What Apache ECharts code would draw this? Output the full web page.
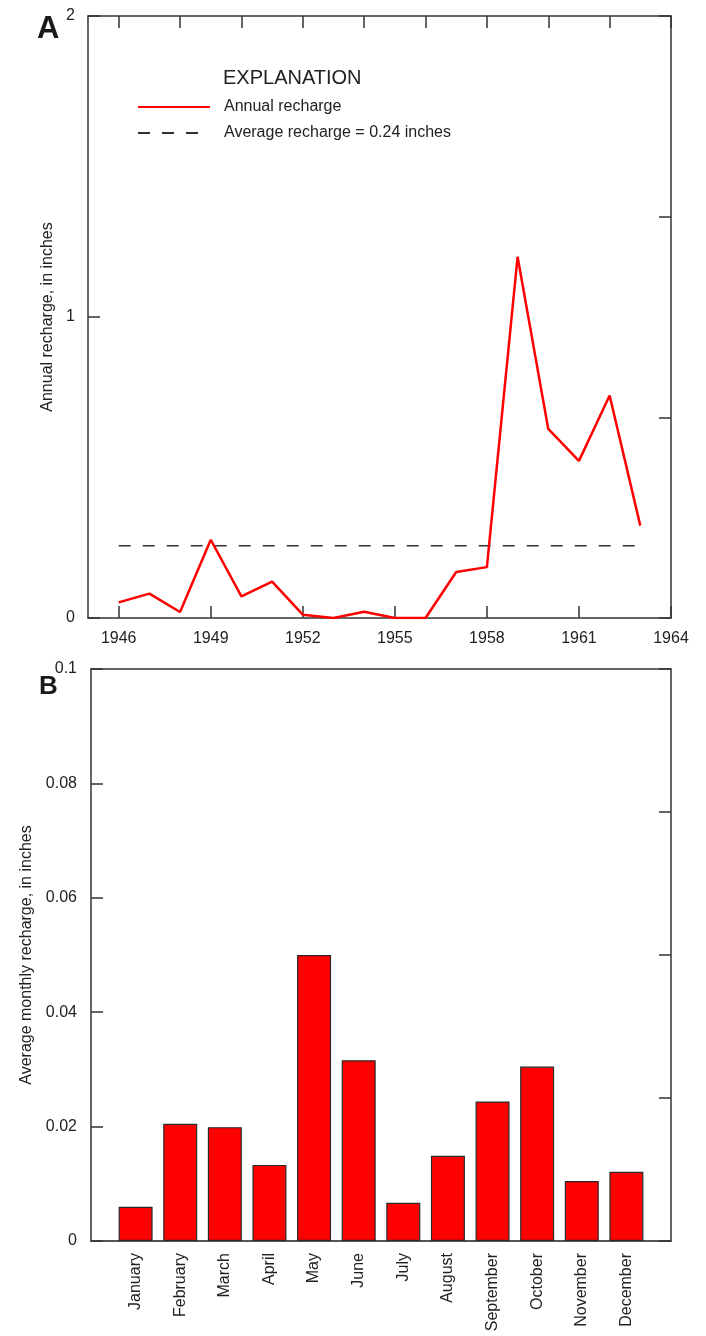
<!DOCTYPE html>
<html>
<head>
<meta charset="utf-8">
<title>Annual and average monthly recharge</title>
<script src="https://cdn.jsdelivr.net/npm/echarts@6/dist/echarts.min.js"></script>
<style>
  html, body { margin: 0; padding: 0; background: #fff; }
  #chart { width: 706px; height: 1336px; }
</style>
</head>
<body>
<div id="chart"></div>
<script>
// Panel A: annual recharge, 1946-1963 (inches)
var years = [1946, 1947, 1948, 1949, 1950, 1951, 1952, 1953, 1954,
             1955, 1956, 1957, 1958, 1959, 1960, 1961, 1962, 1963];
var annualRecharge = [0.052, 0.081, 0.020, 0.260, 0.072, 0.121, 0.011, 0.0, 0.021,
                      0.0, 0.0, 0.153, 0.169, 1.20, 0.628, 0.522, 0.739, 0.307];
var avgRecharge = 0.24;
var yearTicks = [1946, 1949, 1952, 1955, 1958, 1961, 1964];
var yearTicksTop = [1946, 1948, 1950, 1952, 1954, 1956, 1958, 1960, 1962, 1964];

// Panel B: average monthly recharge (inches)
var months = ['January', 'February', 'March', 'April', 'May', 'June', 'July',
              'August', 'September', 'October', 'November', 'December'];
var monthlyRecharge = [0.0060, 0.0205, 0.0199, 0.0133, 0.0500, 0.0316,
                       0.0067, 0.0149, 0.0244, 0.0305, 0.0105, 0.0121];

(function () {
    'use strict';

    var FONT = '"Liberation Sans", Arial, sans-serif';
    var TEXT = '#222';
    var AXIS = '#333';

    // Shared bits for the boxed frame look.
    function frameLine(color, width) {
        return { show: true, onZero: false, lineStyle: { color: color || AXIS, width: width || 1.5 } };
    }
    function tickIn(extra) {
        var t = { show: true, inside: true, length: 12, lineStyle: { color: AXIS, width: 1.5 } };
        for (var k in extra) t[k] = extra[k];
        return t;
    }
    var noLabel = { show: false };

    var lineData = years.map(function (y, i) { return [y, annualRecharge[i]]; });
    var avgData = [[years[0], avgRecharge], [years[years.length - 1], avgRecharge]];
    var barData = monthlyRecharge.map(function (v, i) { return [i + 1, v]; });
    var monthPos = months.map(function (m, i) { return i + 1; });

    var chart = echarts.init(document.getElementById('chart'), null, { renderer: 'canvas' });

    var option = {
        backgroundColor: '#fff',
        animation: false,
        textStyle: { fontFamily: FONT },
        title: [
            { text: 'A', left: 37, top: 14, padding: 0,
              textStyle: { fontFamily: FONT, fontWeight: 'bold', fontSize: 31, lineHeight: 31, color: '#1a1a1a' } },
            { text: 'B', left: 39, top: 674, padding: 0,
              textStyle: { fontFamily: FONT, fontWeight: 'bold', fontSize: 26, lineHeight: 26, color: '#1a1a1a' } },
            { text: 'EXPLANATION', left: 223, top: 68, padding: 0,
              textStyle: { fontFamily: FONT, fontWeight: 'normal', fontSize: 20, lineHeight: 20, color: TEXT } }
        ],
        legend: {
            orient: 'vertical',
            left: 137, top: 99, padding: 0,
            itemWidth: 72, itemHeight: 14, itemGap: 10,
            itemStyle: { opacity: 0 },
            textStyle: { fontFamily: FONT, fontSize: 16, color: TEXT, padding: [0, 0, 0, 9] },
            data: ['Annual recharge', 'Average recharge = 0.24 inches']
        },
        grid: [
            { left: 88, top: 16, width: 583, height: 602 },
            { left: 91, top: 669, width: 580, height: 572 }
        ],
        xAxis: [
            { // A bottom
                type: 'value', gridIndex: 0, position: 'bottom', min: 1945, max: 1964,
                axisLine: frameLine(), splitLine: { show: false },
                axisTick: tickIn({ customValues: yearTicks }),
                axisLabel: {
                    customValues: yearTicks, margin: 13, fontSize: 16, color: TEXT, fontFamily: FONT,
                    formatter: function (v) { return String(v); }
                }
            },
            { // A top
                type: 'value', gridIndex: 0, position: 'top', min: 1945, max: 1964,
                axisLine: frameLine(), splitLine: { show: false },
                axisTick: tickIn({ customValues: yearTicksTop }),
                axisLabel: noLabel
            },
            { // B bottom
                type: 'value', gridIndex: 1, position: 'bottom', min: 0, max: 13, interval: 1,
                axisLine: frameLine('#555', 2), splitLine: { show: false },
                axisTick: { show: false },
                axisLabel: {
                    customValues: monthPos, rotate: 90, margin: 12, fontSize: 16, color: TEXT, fontFamily: FONT,
                    formatter: function (v) { return months[v - 1] || ''; }
                }
            },
            { // B top
                type: 'value', gridIndex: 1, position: 'top', min: 0, max: 13,
                axisLine: frameLine(), splitLine: { show: false },
                axisTick: { show: false }, axisLabel: noLabel
            }
        ],
        yAxis: [
            { // A left
                type: 'value', gridIndex: 0, position: 'left', min: 0, max: 2, interval: 1,
                name: 'Annual recharge, in inches', nameLocation: 'middle', nameGap: 32,
                nameTextStyle: { fontSize: 16, color: TEXT, fontFamily: FONT },
                axisLine: frameLine(), splitLine: { show: false },
                axisTick: tickIn({}),
                axisLabel: { margin: 13, fontSize: 16, color: TEXT, fontFamily: FONT }
            },
            { // A right
                type: 'value', gridIndex: 0, position: 'right', min: 0, max: 2, interval: 2 / 3,
                axisLine: frameLine(), splitLine: { show: false },
                axisTick: tickIn({}), axisLabel: noLabel
            },
            { // B left
                type: 'value', gridIndex: 1, position: 'left', min: 0, max: 0.1, interval: 0.02,
                name: 'Average monthly recharge, in inches', nameLocation: 'middle', nameGap: 54,
                nameTextStyle: { fontSize: 16, color: TEXT, fontFamily: FONT },
                axisLine: frameLine(), splitLine: { show: false },
                axisTick: tickIn({}),
                axisLabel: { margin: 14, fontSize: 16, color: TEXT, fontFamily: FONT }
            },
            { // B right
                type: 'value', gridIndex: 1, position: 'right', min: 0, max: 0.1, interval: 0.025,
                axisLine: frameLine(), splitLine: { show: false },
                axisTick: tickIn({}), axisLabel: noLabel
            }
        ],
        series: [
            {
                name: 'Annual recharge', type: 'line', xAxisIndex: 0, yAxisIndex: 0,
                data: lineData, symbol: 'none', silent: true,
                lineStyle: { color: '#f00', width: 2.5 },
                itemStyle: { color: '#f00' },
                z: 3
            },
            {
                name: 'Average recharge = 0.24 inches', type: 'line', xAxisIndex: 0, yAxisIndex: 0,
                data: avgData, symbol: 'none', silent: true,
                lineStyle: { color: '#333', width: 1.5, type: [12, 12] },
                itemStyle: { color: '#333' },
                z: 2
            },
            {
                name: 'Monthly', type: 'bar', xAxisIndex: 2, yAxisIndex: 2,
                data: barData, barWidth: 34, silent: true,
                itemStyle: { color: '#f00', borderColor: '#2a2a2a', borderWidth: 1.2 }
            }
        ]
    };

    chart.setOption(option);
})();
</script>
</body>
</html>
